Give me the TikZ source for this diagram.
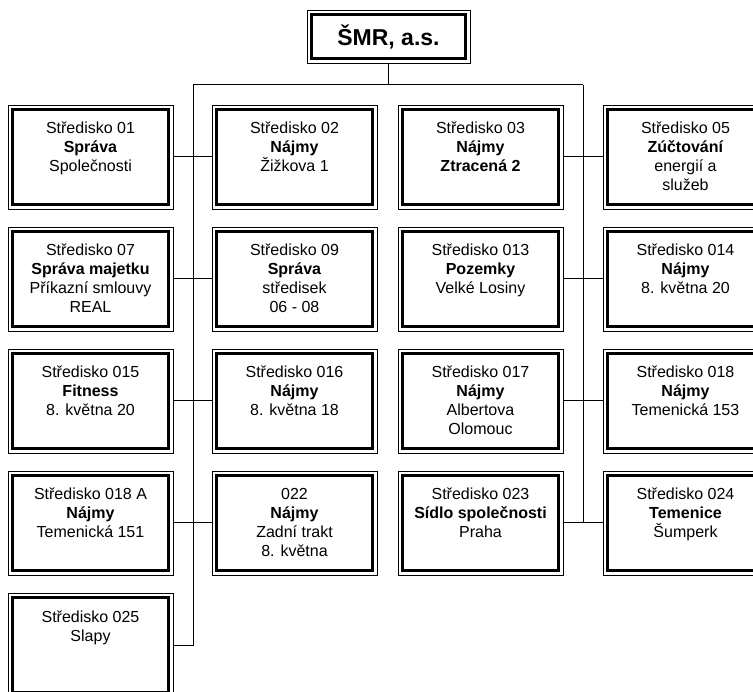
\documentclass[tikz,border=0pt]{standalone}
\usepackage{fontspec}
\setmainfont{Liberation Sans}
\usepackage{tikz}
\tikzstyle{unit} = [draw, rectangle, line width=0.8pt, minimum width=165pt, minimum height=104pt, inner sep=0pt, outer sep=0pt, font=\fontsize{16}{19}\selectfont]
\tikzstyle{head} = [draw, rectangle, line width=0.8pt, minimum width=163pt, minimum height=53pt, inner sep=0pt, outer sep=0pt, font=\fontsize{23}{27}\selectfont\bfseries]
\tikzstyle{rim} = [line width=2.4pt]
\tikzstyle{link} = [line width=1pt]
\newcommand{\unitlines}[1]{\parbox[c][92pt][t]{156pt}{\centering\rule{0pt}{23pt}#1}}

\begin{document}
\begin{tikzpicture}[x=1pt, y=-1pt]
    \useasboundingbox (0,0) rectangle (753,692);
    \clip (0,0) rectangle (753,692);
    \node[head] (smr) at (388.5,36.5) {ŠMR, a.s.};
    % row 1
    \node[unit] (s01) at (90.5,157) {\unitlines{Středisko 01\\\textbf{Správa}\\Společnosti}};
    \node[unit] (s02) at (294.5,157) {\unitlines{Středisko 02\\\textbf{Nájmy}\\Žižkova 1}};
    \node[unit] (s03) at (480.5,157) {\unitlines{Středisko 03\\\textbf{Nájmy}\\\textbf{Ztracená 2}}};
    \node[unit] (s05) at (685.5,157) {\unitlines{Středisko 05\\\textbf{Zúčtování}\\energií a\\služeb}};
    % row 2
    \node[unit] (s07) at (90.5,279) {\unitlines{Středisko 07\\\textbf{Správa majetku}\\Příkazní smlouvy\\REAL}};
    \node[unit] (s09) at (294.5,279) {\unitlines{Středisko 09\\\textbf{Správa}\\středisek\\06 - 08}};
    \node[unit] (s013) at (480.5,279) {\unitlines{Středisko 013\\\textbf{Pozemky}\\Velké Losiny}};
    \node[unit] (s014) at (685.5,279) {\unitlines{Středisko 014\\\textbf{Nájmy}\\8. května 20}};
    % row 3
    \node[unit] (s015) at (90.5,401) {\unitlines{Středisko 015\\\textbf{Fitness}\\8. května 20}};
    \node[unit] (s016) at (294.5,401) {\unitlines{Středisko 016\\\textbf{Nájmy}\\8. května 18}};
    \node[unit] (s017) at (480.5,401) {\unitlines{Středisko 017\\\textbf{Nájmy}\\Albertova\\Olomouc}};
    \node[unit] (s018) at (685.5,401) {\unitlines{Středisko 018\\\textbf{Nájmy}\\Temenická 153}};
    % row 4
    \node[unit] (s018a) at (90.5,523) {\unitlines{Středisko 018 A\\\textbf{Nájmy}\\Temenická 151}};
    \node[unit] (s022) at (294.5,523) {\unitlines{022\\\textbf{Nájmy}\\Zadní trakt\\8. května}};
    \node[unit] (s023) at (480.5,523) {\unitlines{Středisko 023\\\textbf{Sídlo společnosti}\\Praha}};
    \node[unit] (s024) at (685.5,523) {\unitlines{Středisko 024\\\textbf{Temenice}\\Šumperk}};
    % row 5
    \node[unit] (s025) at (90.5,645) {\unitlines{Středisko 025\\Slapy}};
    % inner thick rims
    \foreach \n in {smr,s01,s02,s03,s05,s07,s09,s013,s014,s015,s016,s017,s018,s018a,s022,s023,s024,s025}
        \draw[rim] ([shift={(4.5pt,4.5pt)}]\n.south west) rectangle ([shift={(-4.5pt,-4.5pt)}]\n.north east);
    % connectors
    \coordinate (busl) at (193,85);
    \coordinate (busr) at (583,85);
    \draw[link] (smr) -- (smr |- busl);
    \draw[link] (busl) -- (busr);
    \draw[link] (busl) |- (s025);
    \draw[link] (busr) -- (busr |- s024);
    \draw[link] (s01) -- (s02);
    \draw[link] (s03) -- (s05);
    \draw[link] (s07) -- (s09);
    \draw[link] (s013) -- (s014);
    \draw[link] (s015) -- (s016);
    \draw[link] (s017) -- (s018);
    \draw[link] (s018a) -- (s022);
    \draw[link] (s023) -- (s024);
\end{tikzpicture}
\end{document}
